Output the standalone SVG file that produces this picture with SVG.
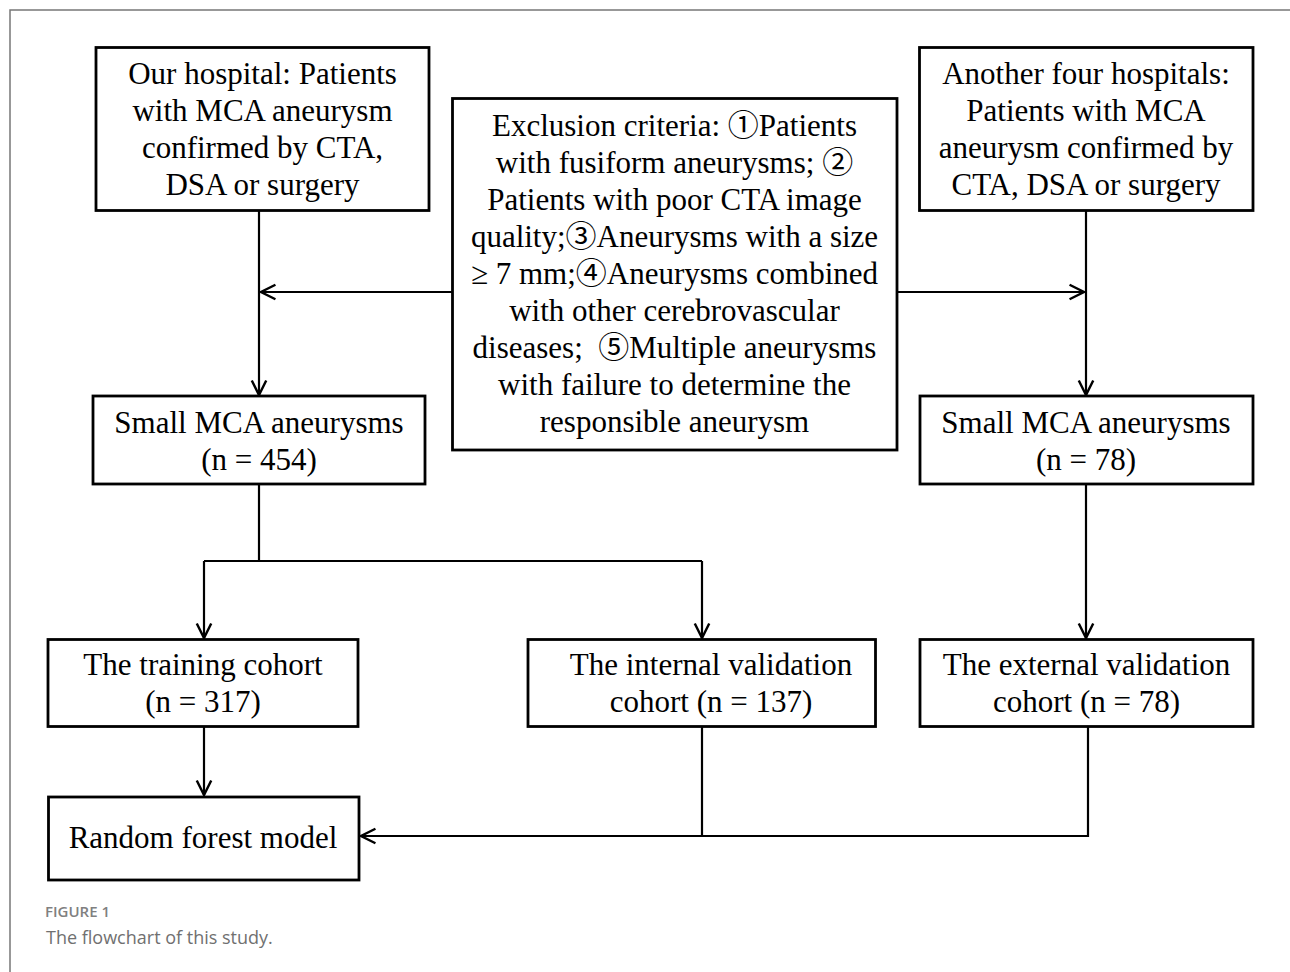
<svg xmlns="http://www.w3.org/2000/svg" width="1290" height="972" viewBox="0 0 1290 972">
<style>
.box{fill:#fff;stroke:#000;stroke-width:2.8}
.t{font-family:"Liberation Serif","Noto Sans CJK SC",serif;font-size:31px;fill:#000;text-anchor:middle}
.c{fill:none;stroke:#000;stroke-width:2.2}
.cap1{font-family:"Open Sans","Noto Sans",sans-serif;font-size:15px;font-weight:600;fill:#808080}
.cap2{font-family:"Open Sans","Noto Sans",sans-serif;font-size:18px;font-weight:400;fill:#707070}
</style>
<defs>
<marker id="ah" markerUnits="userSpaceOnUse" markerWidth="20" markerHeight="20" viewBox="-15 -9 17 18" refX="0" refY="0" orient="auto">
<path d="M-13,-6.5 L0,0 L-13,6.5" fill="none" stroke="#000" stroke-width="2.2"/>
</marker>
</defs>
<rect width="1290" height="972" fill="#fff"/>
<path d="M1290,10 H10 V972" fill="none" stroke="#777" stroke-width="1.5"/>

<g id="connectors">
<path class="c" d="M259,211 V395" marker-end="url(#ah)"/>
<path class="c" d="M452,292 H261" marker-end="url(#ah)"/>
<path class="c" d="M897,292 H1084" marker-end="url(#ah)"/>
<path class="c" d="M1086,211 V395" marker-end="url(#ah)"/>
<path class="c" d="M259,484 V561"/>
<path class="c" d="M204,561 H702"/>
<path class="c" d="M204,561 V638" marker-end="url(#ah)"/>
<path class="c" d="M702,561 V638" marker-end="url(#ah)"/>
<path class="c" d="M1086,484 V638" marker-end="url(#ah)"/>
<path class="c" d="M204,727 V795" marker-end="url(#ah)"/>
<path class="c" d="M702,727 V836"/>
<path class="c" d="M1088,727 V836 H361" marker-end="url(#ah)"/>
</g>

<g id="our-hospital">
<rect class="box" x="96" y="47.5" width="333" height="163"/>
<text class="t" x="262.5" y="84">Our hospital: Patients</text>
<text class="t" x="262.5" y="121">with MCA aneurysm</text>
<text class="t" x="262.5" y="158">confirmed by CTA,</text>
<text class="t" x="262.5" y="195">DSA or surgery</text>
</g>

<g id="exclusion">
<rect class="box" x="452.5" y="98.5" width="444.5" height="351.5"/>
<text class="t" x="674.5" y="136">Exclusion criteria: ①Patients</text>
<text class="t" x="674.5" y="173">with fusiform aneurysms; ②</text>
<text class="t" x="674.5" y="210">Patients with poor CTA image</text>
<text class="t" x="674.5" y="247">quality;③Aneurysms with a size</text>
<text class="t" x="674.5" y="284">≥ 7 mm;④Aneurysms combined</text>
<text class="t" x="674.5" y="321">with other cerebrovascular</text>
<text class="t" x="674.5" y="358" xml:space="preserve">diseases;  ⑤Multiple aneurysms</text>
<text class="t" x="674.5" y="395">with failure to determine the</text>
<text class="t" x="674.5" y="432">responsible aneurysm</text>
</g>

<g id="other-hospitals">
<rect class="box" x="919.5" y="47.5" width="333.5" height="163"/>
<text class="t" x="1086" y="84">Another four hospitals:</text>
<text class="t" x="1086" y="121">Patients with MCA</text>
<text class="t" x="1086" y="158">aneurysm confirmed by</text>
<text class="t" x="1086" y="195">CTA, DSA or surgery</text>
</g>

<g id="small-left">
<rect class="box" x="93" y="396" width="332" height="88"/>
<text class="t" x="259" y="433">Small MCA aneurysms</text>
<text class="t" x="259" y="470">(n = 454)</text>
</g>

<g id="small-right">
<rect class="box" x="920" y="396" width="333" height="88"/>
<text class="t" x="1086" y="433">Small MCA aneurysms</text>
<text class="t" x="1086" y="470">(n = 78)</text>
</g>

<g id="training">
<rect class="box" x="48" y="639.5" width="310" height="87"/>
<text class="t" x="203" y="675">The training cohort</text>
<text class="t" x="203" y="712">(n = 317)</text>
</g>

<g id="internal">
<rect class="box" x="528" y="639.5" width="347.5" height="87"/>
<text class="t" x="711" y="675">The internal validation</text>
<text class="t" x="711" y="712">cohort (n = 137)</text>
</g>

<g id="external">
<rect class="box" x="920" y="639.5" width="333" height="87"/>
<text class="t" x="1086.5" y="675">The external validation</text>
<text class="t" x="1086.5" y="712">cohort (n = 78)</text>
</g>

<g id="random-forest">
<rect class="box" x="48.5" y="797" width="310.5" height="83"/>
<text class="t" x="203" y="848">Random forest model</text>
</g>

<g id="caption">
<text class="cap1" x="45" y="917">FIGURE 1</text>
<text class="cap2" x="46" y="944">The flowchart of this study.</text>
</g>
</svg>
